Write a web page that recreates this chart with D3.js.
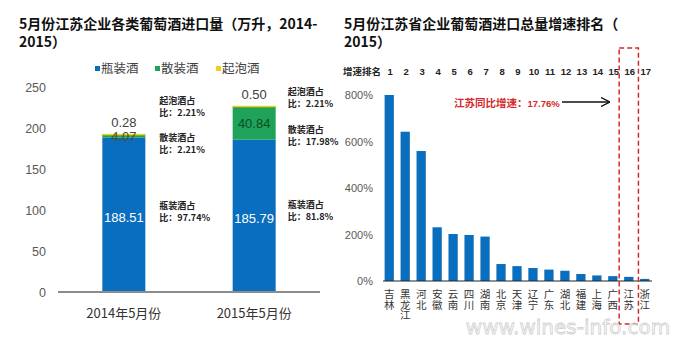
<!DOCTYPE html>
<html>
<head>
<meta charset="utf-8">
<script src="https://cdn.jsdelivr.net/npm/d3@7"></script>
<style>
  body { margin: 0; background: #fff; }
  svg { font-family: "Liberation Sans", "Noto Sans CJK SC", sans-serif; }
  .cjk { font-family: "Noto Sans CJK SC", sans-serif; }
  .axis path, .axis line { display: none; }
  .axis text { fill: #595959; }
</style>
</head>
<body>
<script>
// left chart data
const years = ["2014年5月份", "2015年5月份"]
const wineTypes = ["瓶装酒", "散装酒", "起泡酒"]
const typeColors = ["#0a6ebe", "#1fa35b", "#f2d016"]
const bottled = [188.51, 185.79]
const bulk = [4.07, 40.84]
const sparkling = [0.28, 0.50]
const shareNotes = [
    ["起泡酒占|比：2.21%", "散装酒占|比：2.21%", "瓶装酒占|比：97.74%"],
    ["起泡酒占|比：2.21%", "散装酒占|比：17.98%", "瓶装酒占|比：81.8%"]
]
const leftTicks = [0, 50, 100, 150, 200, 250]

// right chart data
const provinces = ["吉林", "黑龙江", "河北", "安徽", "云南", "四川", "湖南", "北京", "天津", "辽宁", "广东", "湖北", "福建", "上海", "广西", "江苏", "浙江"]
const growth = [800, 642, 559, 231, 202, 198, 191, 73, 64, 56, 49, 44, 30, 24, 21, 17.76, 9]
const rightTicks = [0, 200, 400, 600, 800]

var svg = d3.select("body").append("svg")
    .attr("width", 687)
    .attr("height", 345);

// titles (two separate text lines)
function title(x, lines) {
    lines.forEach((l, i) => {
        svg.append("text").attr("class", "cjk")
            .attr("font-size", 14).attr("font-weight", "bold").attr("fill", "#111")
            .attr("x", x).attr("y", 29 + i * 18).text(l);
    })
}
title(19, ["5月份江苏企业各类葡萄酒进口量（万升，2014-", "2015）"]);
title(344, ["5月份江苏省企业葡萄酒进口总量增速排名（", "2015）"]);

// ---- left stacked bars ----
var x1 = d3.scaleBand().domain(years).range([58, 320]).paddingInner(0.67).paddingOuter(0.34);
var y1 = d3.scaleLinear().domain([0, 250]).range([292, 87]);

var g1 = svg.append("g");
g1.append("g").attr("class", "axis")
    .attr("transform", "translate(46,0)")
    .call(d3.axisLeft(y1).tickValues(leftTicks).tickSize(0).tickPadding(0))
    .selectAll("text").style("font-size", "12.5px");

var table = years.map((yr, i) => ({ year: yr, "瓶装酒": bottled[i], "散装酒": bulk[i], "起泡酒": sparkling[i] }));
var stacked = d3.stack().keys(wineTypes)(table);

stacked.forEach((layer, k) => {
    g1.selectAll(".s" + k)
        .data(layer)
        .enter()
        .append("rect")
        .attr("x", d => x1(d.data.year))
        .attr("width", x1.bandwidth())
        .attr("y", d => y1(d[1]))
        .attr("height", d => Math.max(y1(d[0]) - y1(d[1]), 1.5))
        .attr("fill", typeColors[k]);
})

g1.append("line")
    .attr("x1", 58).attr("x2", 320)
    .attr("y1", y1(0)).attr("y2", y1(0))
    .attr("stroke", "#8c8c8c").attr("stroke-width", 2);

g1.selectAll(".xlab")
    .data(years)
    .enter()
    .append("text")
    .attr("class", "cjk")
    .attr("x", d => x1(d) + x1.bandwidth() / 2)
    .attr("y", 318)
    .attr("text-anchor", "middle")
    .attr("font-size", 13)
    .attr("fill", "#333")
    .text(d => d);

// value labels
years.forEach((yr, i) => {
    var cx = x1(yr) + x1.bandwidth() / 2;
    var top = bottled[i] + bulk[i] + sparkling[i];
    g1.append("text").attr("x", cx).attr("y", y1(top) - 7)
        .attr("text-anchor", "middle").attr("font-size", 13).attr("fill", "#404040")
        .text(sparkling[i].toFixed(2));
    g1.append("text").attr("x", cx)
        .attr("y", i == 0 ? y1(bottled[i] + bulk[i]) + 7 : y1(bottled[i] + bulk[i] / 2) + 5)
        .attr("text-anchor", "middle").attr("font-size", 13)
        .attr("fill", i == 0 ? "#5a4a10" : "#0d4d24")
        .text(bulk[i].toFixed(2));
    g1.append("text").attr("x", cx).attr("y", y1(bottled[i] / 2) + 7)
        .attr("text-anchor", "middle").attr("font-size", 13).attr("fill", "#fff")
        .text(bottled[i].toFixed(2));
})

// share notes
var noteY = [[104, 141, 209], [95, 133, 208]];
years.forEach((yr, i) => {
    var nx = x1(yr) + x1.bandwidth() + (i == 0 ? 14 : 12);
    shareNotes[i].forEach((n, j) => {
        var parts = n.split("|");
        var t = g1.append("text").attr("class", "cjk")
            .attr("font-size", 9).attr("font-weight", "bold").attr("fill", "#222");
        parts.forEach((p, k) => {
            t.append("tspan").attr("x", nx).attr("y", noteY[i][j] + k * 12).text(p);
        })
    })
})

// legend
var leg = g1.selectAll(".leg").data(wineTypes).enter().append("g")
    .attr("transform", (d, i) => "translate(" + [95, 155, 216][i] + ",73)");
leg.append("rect").attr("x", 0).attr("y", -7).attr("width", 5).attr("height", 5)
    .attr("fill", (d, i) => typeColors[i]);
leg.append("text").attr("class", "cjk").attr("x", 6).attr("y", 0)
    .attr("font-size", 12.5).attr("fill", "#404040").text(d => d);

// ---- right bar chart ----
var x2 = d3.scaleBand().domain(provinces).range([383, 651]).paddingInner(0.42).paddingOuter(0.1);
var y2 = d3.scaleLinear().domain([0, 800]).range([281, 95]);

var g2 = svg.append("g");
g2.append("g").attr("class", "axis")
    .attr("transform", "translate(373,0)")
    .call(d3.axisLeft(y2).tickValues(rightTicks).tickSize(0).tickPadding(0).tickFormat(d => d + "%"))
    .selectAll("text").style("font-size", "11px");

g2.selectAll(".bar")
    .data(growth)
    .enter()
    .append("rect")
    .attr("x", (d, i) => x2(provinces[i]))
    .attr("width", x2.bandwidth())
    .attr("y", d => y2(d))
    .attr("height", d => y2(0) - y2(d))
    .attr("fill", "#0a6ebe");

g2.append("line")
    .attr("x1", 383).attr("x2", 652)
    .attr("y1", y2(0)).attr("y2", y2(0))
    .attr("stroke", "#222").attr("stroke-width", 1);

// rank numbers
g2.append("text").attr("class", "cjk").attr("x", 343).attr("y", 75)
    .attr("font-size", 9.5).attr("font-weight", "bold").attr("fill", "#222").text("增速排名");
g2.selectAll(".rank")
    .data(provinces)
    .enter()
    .append("text")
    .attr("x", d => x2(d) + x2.bandwidth() / 2 + 1)
    .attr("y", 75)
    .attr("text-anchor", "middle")
    .attr("font-size", 9.5)
    .attr("font-weight", "bold")
    .attr("fill", "#222")
    .text((d, i) => i + 1);

// vertical province labels
g2.selectAll(".prov")
    .data(provinces)
    .enter()
    .append("text")
    .attr("class", "cjk")
    .attr("font-size", 10.5)
    .attr("fill", "#333")
    .style("writing-mode", "vertical-rl")
    .style("text-orientation", "upright")
    .attr("x", d => x2(d) + x2.bandwidth() / 2)
    .attr("y", 289)
    .text(d => d);

// red dashed box around Jiangsu
var js = provinces.indexOf("江苏");
var bx = x2(provinces[js]) - 5;
g2.append("rect")
    .attr("x", bx).attr("y", 48)
    .attr("width", x2.bandwidth() + 10).attr("height", 276)
    .attr("fill", "none")
    .attr("stroke", "#d42a2a")
    .attr("stroke-width", 1.5)
    .attr("stroke-dasharray", "5,3");

// annotation
var note = g2.append("text").attr("x", 454).attr("y", 107).attr("font-weight", "bold").attr("fill", "#d42a2a");
note.append("tspan").attr("class", "cjk").attr("font-size", 10.5).text("江苏同比增速：");
note.append("tspan").attr("font-size", 9.5).text(growth[js] + "%");

svg.append("defs").append("marker")
    .attr("id", "arr").attr("viewBox", "0 0 10 10").attr("refX", 9).attr("refY", 5)
    .attr("markerWidth", 7).attr("markerHeight", 7).attr("orient", "auto")
    .append("path").attr("d", "M0,0 L10,5 L0,10").attr("fill", "none").attr("stroke", "#111").attr("stroke-width", 1.5);
g2.append("line")
    .attr("x1", 562).attr("x2", 609).attr("y1", 102).attr("y2", 102)
    .attr("stroke", "#111").attr("stroke-width", 1.3)
    .attr("marker-end", "url(#arr)");

// watermark
svg.append("text").attr("x", 568).attr("y", 334).attr("text-anchor", "middle")
    .attr("font-size", 20).attr("fill", "none").attr("stroke", "#cfcfcf").attr("stroke-width", 0.8)
    .attr("font-family", "DejaVu Sans").text("www.wines-info.com");
</script>
</body>
</html>
